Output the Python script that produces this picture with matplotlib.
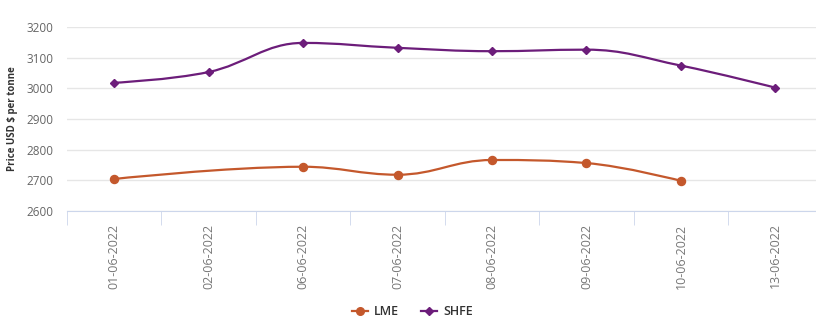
import numpy as np
import matplotlib
matplotlib.use("Agg")
import matplotlib.pyplot as plt
from matplotlib.path import Path
from matplotlib.patches import PathPatch
from matplotlib.lines import Line2D

plt.rcParams['font.family'] = ['Open Sans', 'DejaVu Sans']

dates = ["01-06-2022", "02-06-2022", "06-06-2022", "07-06-2022",
         "08-06-2022", "09-06-2022", "10-06-2022", "13-06-2022"]
lme = [2704, np.nan, 2744, 2718, 2766, 2756, 2698, np.nan]
shfe = [3018, 3053, 3148, 3132, 3121, 3126, 3074, 3002]

LME_COLOR = "#c4582c"
SHFE_COLOR = "#6c1d7a"


def spline_path(xs, ys, smoothing=1.5):
    # highcharts-like spline through the points
    pts = [(x, y) for x, y in zip(xs, ys) if not np.isnan(y)]
    n = len(pts)
    conts = []
    for i in range(n):
        px, py = pts[i]
        if i == 0 or i == n - 1:
            conts.append((px, py, px, py))
            continue
        lx, ly = pts[i - 1]
        nx, ny = pts[i + 1]
        d = smoothing + 1
        lcx = (smoothing * px + lx) / d
        lcy = (smoothing * py + ly) / d
        rcx = (smoothing * px + nx) / d
        rcy = (smoothing * py + ny) / d
        if rcx != lcx:
            corr = (rcy - lcy) * (rcx - px) / (rcx - lcx) + py - rcy
            lcy += corr
            rcy += corr
        if lcy > max(ly, py):
            lcy = max(ly, py); rcy = 2 * py - lcy
        elif lcy < min(ly, py):
            lcy = min(ly, py); rcy = 2 * py - lcy
        if rcy > max(py, ny):
            rcy = max(py, ny); lcy = 2 * py - rcy
        elif rcy < min(py, ny):
            rcy = min(py, ny); lcy = 2 * py - rcy
        conts.append((lcx, lcy, rcx, rcy))
    verts = [pts[0]]
    codes = [Path.MOVETO]
    for i in range(1, n):
        verts += [(conts[i - 1][2], conts[i - 1][3]), (conts[i][0], conts[i][1]), pts[i]]
        codes += [Path.CURVE4] * 3
    return Path(verts, codes)


fig = plt.figure(figsize=(8.16, 3.29), dpi=100)
ax = fig.add_axes([0.082, 0.359, 0.918, 0.559])

x = np.arange(len(dates))
for vals, color, marker, ms in [(lme, LME_COLOR, "o", 5.8), (shfe, SHFE_COLOR, "D", 4.2)]:
    ax.add_patch(PathPatch(spline_path(x, vals), fill=False, edgecolor=color, lw=1.6, zorder=3))
    ax.plot(x, vals, linestyle="none", marker=marker, color=color, ms=ms, zorder=4)

ax.set_xlim(-0.5, 7.43)
ax.set_ylim(2600, 3200)
ax.set_yticks(np.arange(2600, 3201, 100))
ax.yaxis.grid(True, color="#e6e6e6", lw=1)
ax.set_axisbelow(True)
for s in ["top", "right", "left"]:
    ax.spines[s].set_visible(False)
ax.spines["bottom"].set_color("#ccd6eb")
ax.tick_params(axis="y", length=0, labelsize=8.5, labelcolor="#666666", pad=10)

ax.set_xticks(x)
ax.set_xticklabels(dates, rotation=90, fontsize=9, color="#777777")
ax.tick_params(axis="x", which="major", length=0, pad=9)
ax.set_xticks(np.arange(-0.5, 7.5, 1), minor=True)
ax.tick_params(axis="x", which="minor", length=10, color="#ccd6eb")

ax.set_ylabel("Price USD $ per tonne", fontsize=7, fontweight="bold", color="#333333", labelpad=6)

handles = [Line2D([], [], color=LME_COLOR, marker="o", ms=5.5, lw=1.6),
           Line2D([], [], color=SHFE_COLOR, marker="D", ms=4, lw=1.6)]
fig.legend(handles, ["LME", "SHFE"], loc="center", bbox_to_anchor=(0.505, 0.052), ncol=2,
           frameon=False, handlelength=1.3, handletextpad=0.45, columnspacing=1.8,
           prop={"weight": "semibold", "size": 9})
for t in fig.legends[0].get_texts():
    t.set_color("#333333")

fig.savefig("out.png", dpi=100)
